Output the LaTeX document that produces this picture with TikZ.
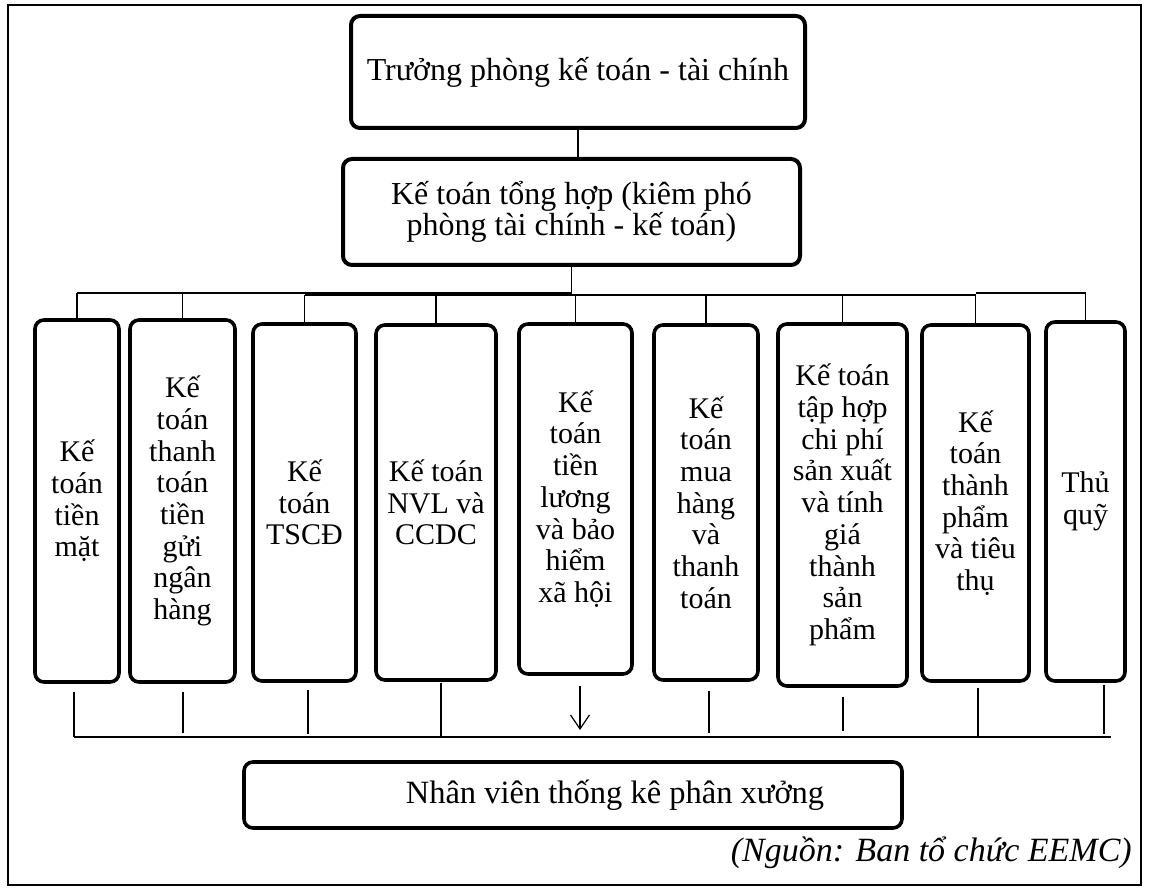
\documentclass[tikz,border=0pt]{standalone}
\usepackage{fontspec}
\setmainfont{Liberation Serif}
\usetikzlibrary{calc,arrows.meta}

\tikzset{
  unitbox/.style={draw, line width=3.6pt, rounded corners=9pt, align=center,
    inner sep=0pt, font=\fontsize{30}{31.7}\selectfont},
  headbox/.style={unitbox, line width=4pt, font=\fontsize{32}{31.7}\selectfont},
  link/.style={line width=1.2pt},
  buswide/.style={line width=2.4pt},
}

\begin{document}
\begin{tikzpicture}[x=1pt, y=-1pt]
\useasboundingbox (0,0) rectangle (1149,890);

% outer frame
\draw[line width=2pt] (8,5) rectangle (1141,885);

% management
\node[headbox, minimum width=454pt, minimum height=112pt] (head) at (578,72)
  {Trưởng phòng kế toán - tài chính};
\node[headbox, minimum width=457pt, minimum height=106pt] (chief) at (571.5,212)
  {Kế toán tổng hợp (kiêm phó\\phòng tài chính - kế toán)};

% accounting units
\node[unitbox, minimum width=84pt,  minimum height=362pt] (b1) at (77,501)
  {Kế\\toán\\tiền\\mặt};
\node[unitbox, minimum width=105pt, minimum height=362pt] (b2) at (182.5,501)
  {Kế\\toán\\thanh\\toán\\tiền\\gửi\\ngân\\hàng};
\node[unitbox, minimum width=103pt, minimum height=357pt] (b3) at (304.5,502.5)
  {Kế\\toán\\TSCĐ};
\node[unitbox, minimum width=120pt, minimum height=355pt] (b4) at (436,502.5)
  {Kế toán\\NVL và\\CCDC};
\node[unitbox, minimum width=113pt, minimum height=350pt] (b5) at (575.5,499)
  {Kế\\toán\\tiền\\lương\\và bảo\\hiểm\\xã hội};
\node[unitbox, minimum width=104pt, minimum height=355pt] (b6) at (706,502.5)
  {Kế\\toán\\mua\\hàng\\và\\thanh\\toán};
\node[unitbox, minimum width=129pt, minimum height=362pt] (b7) at (842.5,505)
  {Kế toán\\tập hợp\\chi phí\\sản xuất\\và tính\\giá\\thành\\sản\\phẩm};
\node[unitbox, minimum width=107pt, minimum height=356pt] (b8) at (975.5,503)
  {Kế\\toán\\thành\\phẩm\\và tiêu\\thụ};
\node[unitbox, minimum width=79pt,  minimum height=359pt] (b9) at (1085.5,501.5)
  {Thủ\\quỹ};

% workshop staff
\node[unitbox, minimum width=658pt, minimum height=66pt] (staff) at (573,795) {};
\node[font=\fontsize{32.5}{32.5}\selectfont, inner sep=0pt] (stafftext) at (615,795)
  {Nhân viên thống kê phân xưởng};

% source note
\node[font=\fontsize{34}{34}\selectfont\itshape, inner sep=0pt, anchor=east] (src)
  at (1132,853) {(Nguồn: Ban tổ chức EEMC)};

% upper distribution bus
\coordinate (busA) at (0,293);
\coordinate (busB) at (0,295);
\draw[link] (head.south) -- (head.south |- chief.north);
\draw[link] (chief.south) -- (chief.south |- busA);
\draw[link] (b1.north |- busA) -- (chief.south |- busA);
\draw[buswide] (b3.north |- busB) -- (b8.north |- busB);
\draw[link] (b8.north |- busA) -- (b9.north |- busA);
\foreach \b in {b1,b2,b9} \draw[link] (\b.north |- busA) -- (\b.north);
\foreach \b in {b3,b4,b5,b6,b7,b8} \draw[link] (\b.north |- busB) -- (\b.north);

% lower collecting bus
\coordinate (bbL) at (74,737);
\coordinate (bbR) at (1111,737);
\draw[line width=1.8pt] (bbL) -- (bbR);
\draw[link] ($(b1.south)+(-3,8)$)   -- ($(b1.south |- bbL)+(-3,0)$);
\draw[link] ($(b2.south)+(0.5,8)$)  -- ($(b2.south |- bbL)+(0.5,-4)$);
\draw[link] ($(b3.south)+(3.5,7)$)  -- ($(b3.south |- bbL)+(3.5,-3)$);
\draw[link] ($(b4.south)+(5,1)$)    -- ($(b4.south |- bbL)+(5,0)$);
\draw[link, -{Straight Barb[length=14pt,width=19pt]}]
  ($(b5.south)+(4.5,10.5)$) -- ($(b5.south |- bbL)+(4.5,-7)$);
\draw[link] ($(b6.south)+(3,9)$)    -- ($(b6.south |- bbL)+(3,-4)$);
\draw[link] ($(b7.south)+(0.5,9)$)  -- ($(b7.south |- bbL)+(0.5,-6)$);
\draw[link] ($(b8.south)+(2.5,5)$)  -- ($(b8.south |- bbL)+(2.5,0)$);
\draw[link] ($(b9.south)+(18.5,2)$) -- ($(b9.south |- bbL)+(18.5,-3)$);
\end{tikzpicture}
\end{document}
